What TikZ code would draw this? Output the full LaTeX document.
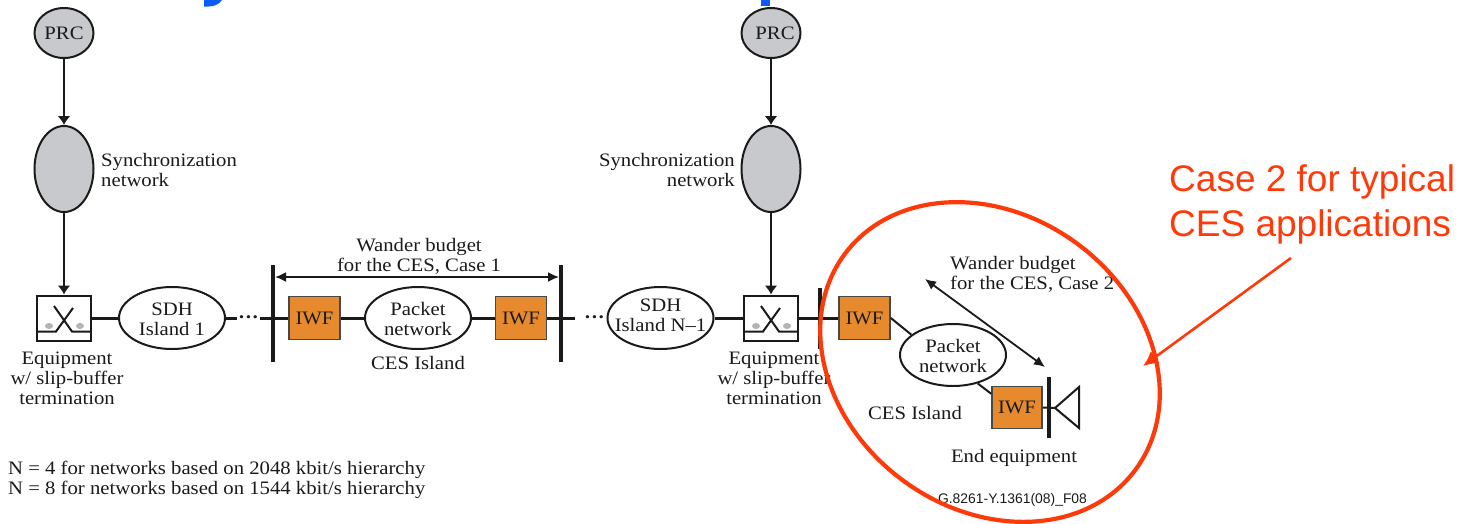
\documentclass[tikz,border=0pt]{standalone}
\usepackage{fontspec}
\setmainfont[FakeStretch=1.09]{Liberation Serif}
\setsansfont{Liberation Sans}
\usetikzlibrary{shapes.geometric,arrows.meta}
\definecolor{inkc}{HTML}{1A1A1A}
\definecolor{greyc}{HTML}{C8C9CD}
\definecolor{dotc}{HTML}{B4B4B4}
\definecolor{iwfc}{HTML}{E78A2E}
\definecolor{redc}{HTML}{FF3A0A}
\definecolor{bluec}{HTML}{0A5CF5}
\tikzset{
 x=1pt,y=-1pt,
 lbl/.style={inner sep=0pt,align=center,text=inkc,font=\fontsize{19}{20}\selectfont},
 lblr/.style={lbl,align=right},
 lbll/.style={lbl,align=left},
 grey/.style={ellipse,draw=inkc,fill=greyc,line width=2pt,inner sep=0pt,minimum width=59pt},
 island/.style={ellipse,draw=inkc,fill=white,line width=2pt,inner sep=0pt,minimum width=106pt,minimum height=62pt,text=inkc,align=center,font=\fontsize{19}{20}\selectfont},
 iwfbox/.style={rectangle,draw=inkc!80,fill=iwfc,line width=1.6pt,inner sep=0pt,minimum width=51pt,minimum height=43pt,text=inkc,font=\fontsize{19}{20}\selectfont},
 xbox/.style={rectangle,draw=inkc,fill=white,line width=2pt,inner sep=0pt,minimum width=54pt,minimum height=45pt},
 feed/.style={draw=inkc,line width=2.8pt,-{Latex[length=9pt,width=13pt]}},
 trunk/.style={draw=inkc,line width=3pt},
 bar/.style={draw=inkc,line width=3.4pt},
 thin link/.style={draw=inkc,line width=2pt},
 crossl/.style={draw=inkc,line width=2pt},
 budget/.style={draw=inkc,line width=1.8pt,{Latex[length=11pt,width=10pt]}-{Latex[length=11pt,width=10pt]}},
 dotsn/.style={inner sep=1pt,text=inkc,font=\fontsize{19}{20}\selectfont\bfseries},
}
\begin{document}
\begin{tikzpicture}
\useasboundingbox (0,0) rectangle (1469,523);
% clipped title remnants
\fill[bluec] (204,0) -- (222,0) .. controls (219,5) and (213,7) .. (204,6.5) -- cycle;
\fill[bluec] (761,0) rectangle (770,6);
% left column
\node[grey,minimum height=50pt] (prcA) at (64,33) {};
\node[lbl] (prcAt) at (64,33) {PRC};
\node[grey,minimum height=86pt] (syncA) at (64,169) {};
\node[lbll,anchor=west] (syncAt) at (101,169.5) {Synchronization\\network};
\node[xbox] (eqA) at (64,318) {};
\draw[feed] (prcA.south) -- (syncA.north);
\draw[feed] (syncA.south) -- (eqA.north);
\draw[crossl] (37.5,331.5) -- (56,331.5) -- (73,308);
\draw[crossl] (54,306) -- (72,331.5) -- (91,331.5);
\fill[dotc] (49,326) ellipse [x radius=4,y radius=3];
\fill[dotc] (80,326) ellipse [x radius=4,y radius=3];
\node[lbl] (eqAt) at (67,378) {Equipment\\w/ slip-buffer\\termination};
\node[island] (sdhA) at (172,318) {};
\node[lbl] (sdhAt) at (172,319) {SDH\\Island 1};
\draw[trunk] (eqA.east) -- (sdhA.west);
% CES island case 1
\node[dotsn] (dotsA) at (248.5,320) {\textperiodcentered\textperiodcentered\textperiodcentered};
\draw[trunk] (sdhA.east) -- (sdhA.east -| dotsA.west);
\coordinate (b1t) at (273,265); \coordinate (b1b) at (273,362);
\coordinate (b2t) at (561,265); \coordinate (b2b) at (561,362);
\node[iwfbox] (iwfA) at (314.5,318) {IWF};
\node[island] (pktA) at (418,318) {};
\node[lbl] (pktAt) at (418,319) {Packet\\network};
\node[iwfbox] (iwfB) at (521,318) {IWF};
\node[dotsn] (dotsB) at (594.5,320) {\textperiodcentered\textperiodcentered\textperiodcentered};
\draw[trunk] (dotsA.east |- iwfA.west) -- (iwfA.west);
\draw[trunk] (iwfA.east) -- (pktA.west);
\draw[trunk] (pktA.east) -- (iwfB.west);
\coordinate (stubB) at (575,318);
\draw[trunk] (iwfB.east) -- (stubB);
\draw[bar] (b1t) -- (b1b);
\draw[bar] (b2t) -- (b2b);
\coordinate (wA) at (275,277); \coordinate (wB) at (559,277);
\draw[budget] (wA) -- (wB);
\node[lbl] (wanderA) at (419,256) {Wander budget\\for the CES, Case 1};
\node[lbl] (cesA) at (418,362.5) {CES Island};
% right column
\node[island] (sdhB) at (660.5,318) {};
\node[lbl] (sdhBt) at (660.5,315) {SDH\\Island N\textendash1};
\node[grey,minimum height=50pt] (prcB) at (771,33) {};
\node[lbl] (prcBt) at (775,33) {PRC};
\node[grey,minimum height=86pt] (syncB) at (771,169) {};
\node[lblr,anchor=east] (syncBt) at (735,169.5) {Synchronization\\network};
\node[xbox] (eqB) at (771,318) {};
\draw[feed] (prcB.south) -- (syncB.north);
\draw[feed] (syncB.south) -- (eqB.north);
\draw[crossl] (745,331.5) -- (763,331.5) -- (780,308);
\draw[crossl] (761,306) -- (779,331.5) -- (798,331.5);
\fill[dotc] (756,326) ellipse [x radius=4,y radius=3];
\fill[dotc] (787,326) ellipse [x radius=4,y radius=3];
\node[lbl] (eqBt) at (774,378) {Equipment\\w/ slip-buffer\\termination};
\draw[trunk] (sdhB.east) -- (eqB.west);
\node[iwfbox] (iwfC) at (864.5,318) {IWF};
\draw[trunk] (eqB.east) -- (iwfC.west);
\coordinate (b3t) at (820,288); \coordinate (b3b) at (820,349);
\draw[bar] (b3t) -- (b3b);
% case 2 island
\node[island] (pktB) at (953,355) {};
\node[lbl] (pktBt) at (953,355.5) {Packet\\network};
\node[iwfbox,minimum height=42pt,minimum width=50pt] (iwfD) at (1017,407.5) {IWF};
\draw[thin link] (iwfC.east) -- (pktB.154);
\draw[thin link] (pktB.311) -- (iwfD.152);
\coordinate (b4t) at (1049,377); \coordinate (b4b) at (1049,438);
\draw[bar] (b4t) -- (b4b);
\coordinate (spk) at (1055,408);
\coordinate (spkT) at (1079,387); \coordinate (spkB) at (1079,428);
\draw[thin link] (iwfD.east) -- (spk);
\draw[thin link,line join=miter] (spk) -- (spkT) -- (spkB) -- cycle;
\coordinate (wC) at (925,279); \coordinate (wD) at (1045,367);
\draw[budget] (wC) -- (wD);
\node[lbll,anchor=west] (wanderB) at (950,274.5) {Wander budget\\for the CES, Case 2};
\node[lbl] (cesB) at (915,412.5) {CES Island};
\node[lbl] (endeq) at (1014,457.5) {End equipment};
\node[lbl,font=\sffamily\fontsize{13.9}{14}\selectfont] (fig) at (1012.5,500) {G.8261-Y.1361(08)\_F08};
% notes
\node[lbll,anchor=west] (notes) at (8,479.5) {N = 4 for networks based on 2048 kbit/s hierarchy\\N = 8 for networks based on 1544 kbit/s hierarchy};
% red annotation
\node[ellipse,draw=redc,line width=4.2pt,inner sep=0pt,minimum width=362pt,minimum height=294pt,rotate=-36.5] (ring) at (990,362) {};
\node[inner sep=0pt,anchor=west,align=left,text=redc,font=\sffamily\fontsize{37}{45}\selectfont] (caseT) at (1169,204.5) {Case 2 for typical\\CES applications};
\coordinate (redS) at (1291,258); \coordinate (redE) at (1143,366);
\draw[draw=redc,line width=2.6pt,-{Latex[length=15pt,width=15pt]}] (redS) -- (redE);
\end{tikzpicture}
\end{document}
